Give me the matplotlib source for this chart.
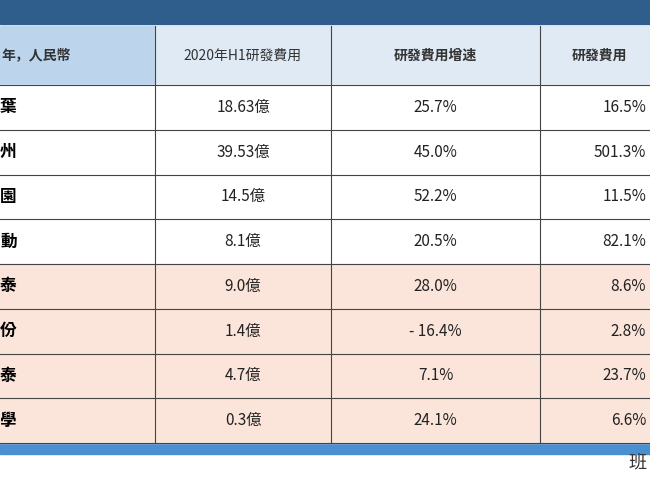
import matplotlib.pyplot as plt
from matplotlib import font_manager as fm
from matplotlib.patches import Rectangle

cjk = [f.name for f in fm.fontManager.ttflist if 'CJK' in f.name]
tc = [n for n in cjk if 'TC' in n] or cjk
plt.rcParams['font.family'] = (tc[:1] if tc else []) + ['DejaVu Sans']

headers = ['年，人民幣', '2020年H1研發費用', '研發費用增速', '研發費用']
row_labels = ['葉', '州', '園', '動', '泰', '份', '泰', '學']
rd_cost = ['18.63億', '39.53億', '14.5億', '8.1億', '9.0億', '1.4億', '4.7億', '0.3億']
rd_growth = ['25.7%', '45.0%', '52.2%', '20.5%', '28.0%', '- 16.4%', '7.1%', '24.1%']
rd_other = ['16.5%', '501.3%', '11.5%', '82.1%', '8.6%', '2.8%', '23.7%', '6.6%']

fig = plt.figure(figsize=(6.5, 4.87), dpi=100)
ax = fig.add_axes([0, 0, 1, 1])
ax.set_xlim(0, 650)
ax.set_ylim(487, 0)
ax.axis('off')

col_x = [0, 155, 331, 540, 650]
header_top, header_bot = 26, 85
row_h = (443 - 85) / len(row_labels)

# top band and bottom bar
ax.add_patch(Rectangle((0, 0), 650, 24, color='#2f5d8c'))
ax.add_patch(Rectangle((0, 443), 650, 11, color='#4a8fd0'))

# header
ax.add_patch(Rectangle((0, header_top), 155, header_bot - header_top, color='#bcd5ec'))
ax.add_patch(Rectangle((155, header_top), 495, header_bot - header_top, color='#dfeaf5'))
for i, h in enumerate(headers):
    if i == 0:
        ax.text(1, (header_top + header_bot) / 2, h, ha='left', va='center', fontsize=10, fontweight='bold', color='#333333')
    elif i == 3:
        ax.text(572, (header_top + header_bot) / 2, h, ha='left', va='center', fontsize=10, fontweight='bold', color='#333333')
    else:
        ax.text((col_x[i] + col_x[i + 1]) / 2, (header_top + header_bot) / 2, h, ha='center', va='center', fontsize=10,
                fontweight='bold' if i == 2 else 'normal', color='#333333')

for r in range(len(row_labels)):
    y0 = header_bot + r * row_h
    yc = y0 + row_h / 2
    color = 'white' if r < 4 else '#fbe4da'
    ax.add_patch(Rectangle((0, y0), 650, row_h, color=color))
    ax.plot([0, 650], [y0, y0], color='#444444', lw=0.8)
    ax.text(0, yc, row_labels[r], ha='left', va='center', fontsize=12, fontweight='bold', color='black')
    ax.text((155 + 331) / 2, yc, rd_cost[r], ha='center', va='center', fontsize=11, color='#222222')
    ax.text((331 + 540) / 2, yc, rd_growth[r], ha='center', va='center', fontsize=11, color='#222222')
    ax.text(646, yc, rd_other[r], ha='right', va='center', fontsize=11, color='#222222')
ax.plot([0, 650], [443, 443], color='#444444', lw=0.8)

for x in col_x[1:4]:
    ax.plot([x, x], [header_top, 443], color='#444444', lw=0.8)

ax.text(628, 462, '班', ha='left', va='center', fontsize=13, color='#333333')

fig.savefig('out.png', dpi=100)
